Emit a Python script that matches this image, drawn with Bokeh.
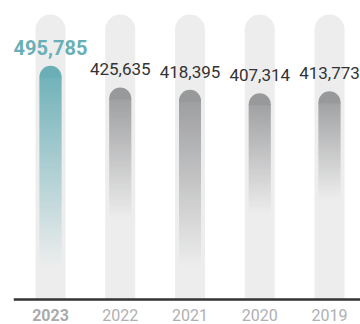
import numpy as np
from bokeh.plotting import figure
from bokeh.models import Range1d, Span
from bokeh.core.properties import value
from bokeh.embed import file_html
from bokeh.resources import INLINE

# ---- data ----
years = ["2023", "2022", "2021", "2020", "2019"]
values = [495785, 425635, 418395, 407314, 413773]
value_labels = ["495,785", "425,635", "418,395", "407,314", "413,773"]

# ---- layout / style ----
W, H = 360, 324
LEFT = 13
FRAME_W = W - LEFT
Y0 = -256000.0          # value at baseline
UPP = 3215.0            # data units per vertical pixel
y_start = Y0 - 25 * UPP
y_end = Y0 + 299 * UPP
XPP = 1 / 69.75
x_start = -37 * XPP
x_end = x_start + FRAME_W * XPP
FADE_PX = [33, 80, 33, 85, 100]   # pixels above baseline where each bar's gradient fully fades

FONT = value("Roboto")
TEAL = (106, 175, 182)
GRAY = (152, 153, 155)
BGC = (237, 237, 237)
BG = "#ededed"


def hexc(c):
    return "#%02x%02x%02x" % tuple(int(round(v)) for v in c)


def mix(c, a):
    return hexc([a * c[k] + (1 - a) * BGC[k] for k in range(3)])


xs = list(range(len(years)))

p = figure(width=W, height=H, x_range=Range1d(x_start, x_end), y_range=Range1d(y_start, y_end),
           output_backend="svg", toolbar_location=None, min_border=0, min_border_left=LEFT)
p.title.visible = False
p.axis.visible = False
p.grid.visible = False
p.outline_line_color = None
p.background_fill_color = "white"
p.border_fill_color = "white"

# background pills
p.vbar(x=xs, width=30 * XPP, bottom=Y0, top=Y0 + 285 * UPP, fill_color=BG, line_color=None,
       border_radius=(15, 15, 0, 0))

# gradient bars (opaque, slightly overlapping slices)
seg_x, seg_b, seg_t, seg_c = [], [], [], []
cap_b, cap_t, cap_c = [], [], []
for i, v in enumerate(values):
    col = TEAL if i == 0 else GRAY
    cb = v - 11 * UPP
    fade0 = Y0 + FADE_PX[i] * UPP
    b = Y0
    while b < cb:
        t = min(b + 2 * UPP, cb)
        frac = ((b + t) / 2 - fade0) / (v - fade0)
        a = min(1.0, max(0.0, frac))
        seg_x.append(i); seg_b.append(b); seg_t.append(min(t + 1.0 * UPP, cb)); seg_c.append(mix(col, a))
        b = t
    cap_b.append(cb - 1.0 * UPP); cap_t.append(v); cap_c.append(hexc(col))

p.vbar(x=seg_x, width=22 * XPP, bottom=seg_b, top=seg_t, fill_color=seg_c, line_color=None)
p.vbar(x=xs, width=22 * XPP, bottom=cap_b, top=cap_t, fill_color=cap_c, line_color=None,
       border_radius=(11, 11, 0, 0))

# baseline
p.add_layout(Span(location=Y0, dimension="width", line_color="#333333", line_width=2.5))

# value labels
p.text(x=xs[:1], y=values[:1], text=value_labels[:1], text_align="center",
       text_baseline="alphabetic", y_offset=-18, text_font=FONT, text_font_size="20px",
       text_font_style="bold", text_color=hexc(TEAL))
p.text(x=xs[1:], y=values[1:], text=value_labels[1:], text_align="center",
       text_baseline="alphabetic", y_offset=-18, text_font=FONT, text_font_size="17px",
       text_color="#333333")

# year labels
p.text(x=xs[:1], y=[Y0], text=years[:1], text_align="center", text_baseline="alphabetic",
       y_offset=15, text_font=FONT, text_font_size="16px", text_font_style="bold",
       text_color="#aaaaaa")
p.text(x=xs[1:], y=[Y0] * (len(xs) - 1), text=years[1:], text_align="center",
       text_baseline="alphabetic", y_offset=15, text_font=FONT, text_font_size="16px",
       text_color="#b0b0b0")

open("out.html", "w").write(file_html(p, INLINE))
